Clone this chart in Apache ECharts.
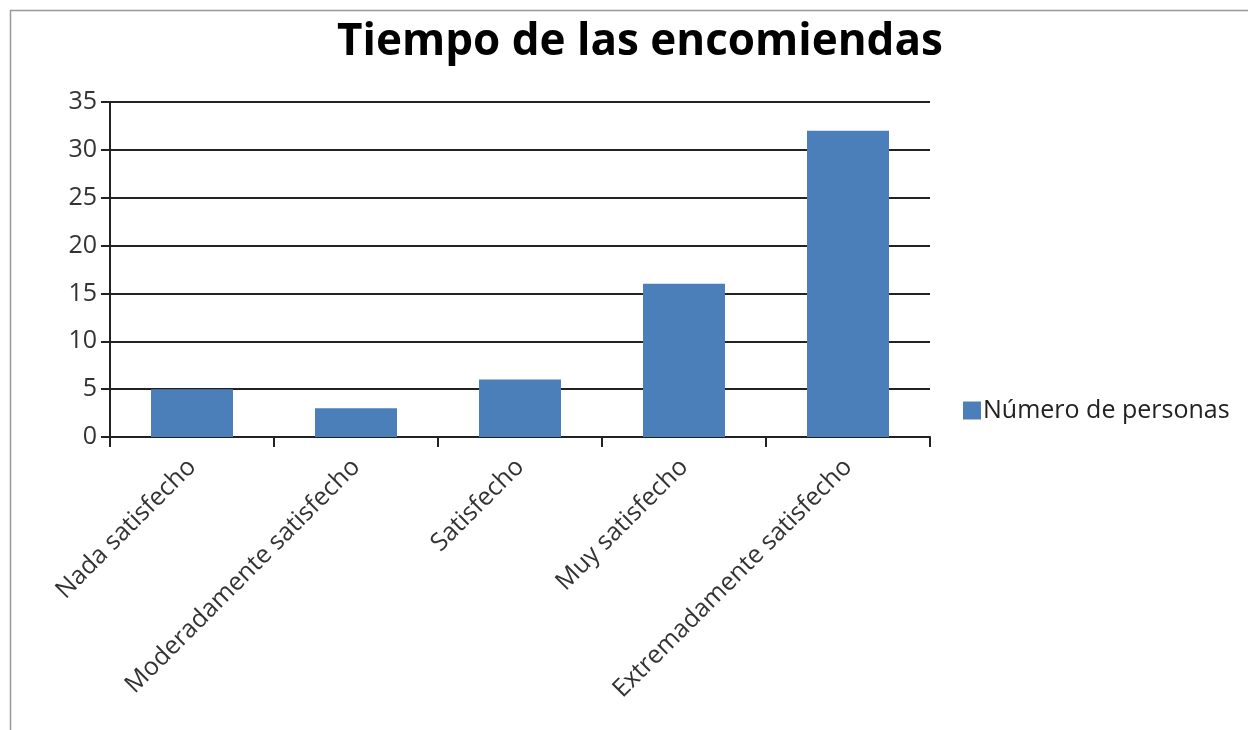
<!DOCTYPE html>
<html>
<head>
<meta charset="utf-8">
<script src="https://cdn.jsdelivr.net/npm/echarts@6/dist/echarts.min.js"></script>
<style>
  html, body { margin: 0; padding: 0; background: #fff; }
  #chart { width: 1248px; height: 730px; }
</style>
</head>
<body>
<div id="chart"></div>
<script>
// Satisfaction with delivery time
const categories = [
  'Nada satisfecho',
  'Moderadamente satisfecho',
  'Satisfecho',
  'Muy satisfecho',
  'Extremadamente satisfecho'
];
const personas = [5, 3, 6, 16, 32];
const seriesName = 'Número de personas';
const titleText = 'Tiempo de las encomiendas';

const font = '"Open Sans", "DejaVu Sans", sans-serif';
const chart = echarts.init(document.getElementById('chart'));

chart.setOption({
  backgroundColor: '#fff',
  animation: false,
  title: {
    text: titleText,
    left: 635,
    top: 15,
    textAlign: 'center',
    textStyle: { fontFamily: font, fontSize: 44, fontWeight: 'bold', color: '#000' }
  },
  legend: {
    data: [seriesName],
    left: 958,
    top: 393,
    icon: 'rect',
    itemWidth: 18,
    itemHeight: 18,
    itemGap: 4,
    textStyle: { fontFamily: font, fontSize: 25, color: '#222', padding: [0, 0, 0, -3] }
  },
  grid: { left: 110, right: 318, top: 102, bottom: 293, containLabel: false },
  xAxis: {
    type: 'category',
    data: categories,
    axisLine: { lineStyle: { color: '#222', width: 2 } },
    axisTick: { show: true, length: 10, lineStyle: { color: '#222', width: 2 } },
    axisLabel: { rotate: 45, margin: 26, fontFamily: font, fontSize: 25, color: '#333' }
  },
  yAxis: {
    type: 'value',
    min: 0,
    max: 35,
    interval: 5,
    axisLine: { show: true, lineStyle: { color: '#222', width: 2 } },
    axisTick: { show: true, length: 9, lineStyle: { color: '#222', width: 2 } },
    axisLabel: { margin: 13, fontFamily: font, fontSize: 25, color: '#333' },
    splitLine: { show: true, lineStyle: { color: '#222', width: 2 } }
  },
  series: [{
    name: seriesName,
    type: 'bar',
    data: personas,
    barCategoryGap: '50%',
    itemStyle: { color: '#4A7FBA' }
  }],
  graphic: [
    {
      type: 'polyline',
      shape: { points: [[10.5, 730], [10.5, 10.5], [1248, 10.5]] },
      style: { stroke: '#999', lineWidth: 1.5, fill: null }
    }
  ]
});
</script>
</body>
</html>
